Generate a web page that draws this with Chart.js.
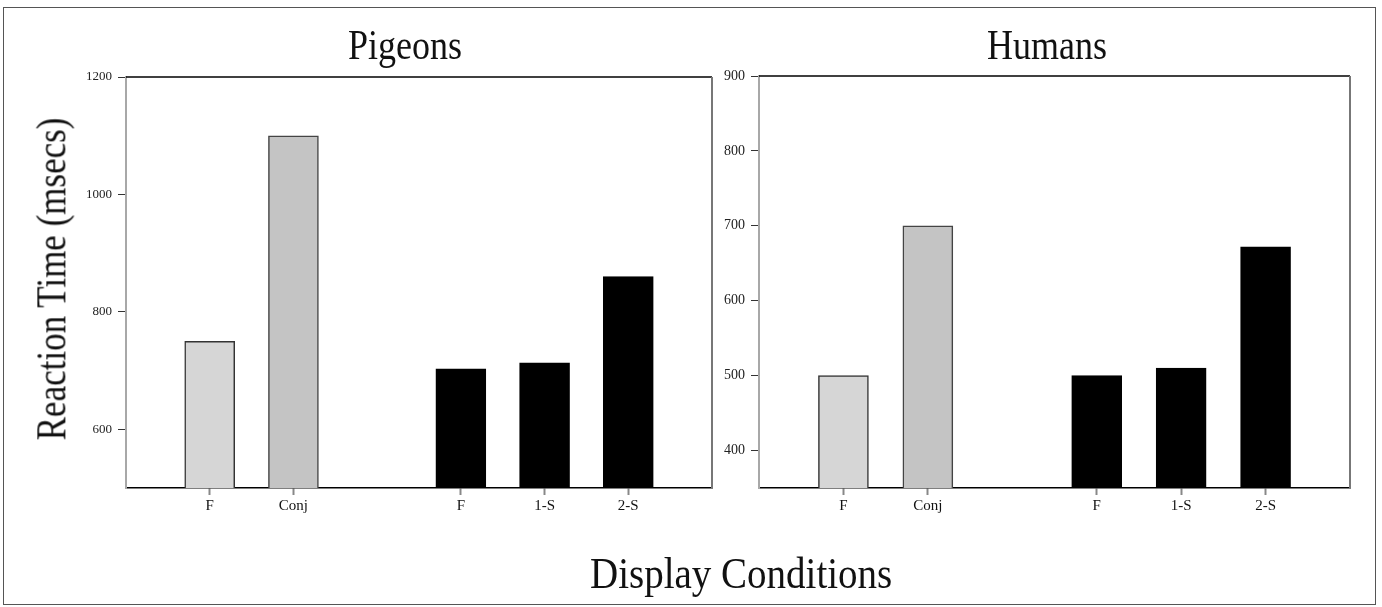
<!DOCTYPE html>
<html>
<head>
<meta charset="utf-8">
<script src="https://cdn.jsdelivr.net/npm/chart.js@4.4.1/dist/chart.umd.min.js"></script>
<style>
    body { margin: 0; background: #fff; }
    #page { position: relative; width: 1382px; height: 607px; overflow: hidden; font-family: 'Liberation Serif', 'DejaVu Serif', serif; color: #111; }
    #frame { position: absolute; left: 3px; top: 7px; width: 1373px; height: 598px; border: 1px solid #555; box-sizing: border-box; }
    canvas { position: absolute; top: 0; }
    .txt { position: absolute; white-space: nowrap; transform-origin: center center; }
</style>
</head>
<body>
<div id="page">
    <div id="frame"></div>
    <canvas id="pigeons" width="740" height="607" style="left:0px"></canvas>
    <canvas id="humans" width="662" height="607" style="left:720px"></canvas>
    <div class="txt" id="t-pigeons" style="font-size:36px;">Pigeons</div>
    <div class="txt" id="t-humans" style="font-size:36px;">Humans</div>
    <div class="txt" id="t-y" style="font-size:35px;">Reaction Time (msecs)</div>
    <div class="txt" id="t-x" style="font-size:39px;">Display Conditions</div>
</div>
<script>
const categories = ['', 'F', 'Conj', '', 'F', '1-S', '2-S', ''];
const pigeonRT = [null, 750, 1100, null, 703, 713, 860, null];
const humanRT = [null, 500, 700, null, 500, 510, 672, null];
const pigeonTicks = [600, 800, 1000, 1200];
const humanTicks = [400, 500, 600, 700, 800, 900];
const barColors = [null, '#d6d6d6', '#c4c4c4', null, '#000', '#000', '#000', null];
const barBorders = [null, '#333', '#444', null, '#000', '#000', '#000', null];

// top and right edges of the plot box
const framePlugin = {
    id: 'framePlugin',
    afterDraw(chart) {
        const a = chart.chartArea;
        const ctx = chart.ctx;
        ctx.save();
        ctx.strokeStyle = '#000';
        ctx.lineWidth = 1.5;
        ctx.beginPath();
        ctx.moveTo(a.left, a.top);
        ctx.lineTo(a.right, a.top);
        ctx.stroke();
        ctx.strokeStyle = '#777';
        ctx.lineWidth = 2;
        ctx.beginPath();
        ctx.moveTo(a.right, a.top);
        ctx.lineTo(a.right, a.bottom);
        ctx.stroke();
        ctx.restore();
    }
};

const makePanel = (canvasId, values, ticks, yMin, yMax, yWidth, pad, tickSize) => {
    return new Chart(document.getElementById(canvasId), {
        type: 'bar',
        data: {
            labels: categories,
            datasets: [{
                data: values,
                backgroundColor: barColors,
                borderColor: barBorders,
                borderWidth: 1.5,
                barThickness: 50
            }]
        },
        options: {
            responsive: false,
            animation: false,
            layout: { padding: pad },
            plugins: { legend: { display: false }, tooltip: { enabled: false } },
            scales: {
                x: {
                    offset: false,
                    grid: {
                        offset: false,
                        drawOnChartArea: false,
                        tickLength: 7,
                        tickColor: (ctx) => categories[ctx.index] ? '#888' : 'rgba(0,0,0,0)',
                        tickWidth: 2
                    },
                    border: { color: '#000', width: 1.5 },
                    ticks: {
                        color: '#111',
                        font: { family: 'Liberation Serif', size: 15 },
                        padding: 2,
                        maxRotation: 0,
                        autoSkip: false
                    },
                    afterFit: (scale) => { scale.height = 119; }
                },
                y: {
                    min: yMin,
                    max: yMax,
                    grid: {
                        drawOnChartArea: false,
                        tickLength: 8,
                        tickColor: '#333'
                    },
                    border: { color: '#a8a8a8', width: 2 },
                    ticks: {
                        color: '#222',
                        font: { family: 'Liberation Serif', size: tickSize },
                        padding: 6,
                        callback: (v) => String(v)
                    },
                    afterBuildTicks: (scale) => { scale.ticks = ticks.map(v => ({ value: v })); },
                    afterFit: (scale) => { scale.width = yWidth; }
                }
            }
        },
        plugins: [framePlugin]
    });
};

makePanel('pigeons', pigeonRT, pigeonTicks, 500, 1200, 126, { top: 77, right: 28, bottom: 0, left: 0 }, 13);
makePanel('humans', humanRT, humanTicks, 350, 900, 39, { top: 76, right: 32, bottom: 0, left: 0 }, 14);

// place the text labels by their centres
const place = (id, cx, cy, rot, sy) => {
    const el = document.getElementById(id);
    const w = el.offsetWidth, h = el.offsetHeight;
    el.style.left = (cx - w / 2) + 'px';
    el.style.top = (cy - h / 2) + 'px';
    el.style.transform = `rotate(${rot}deg) scaleY(${sy})`;
};
place('t-pigeons', 405, 45, 0, 1.2);
place('t-humans', 1047, 45, 0, 1.2);
place('t-y', 52, 279, -90, 1.2);
place('t-x', 741, 572, 0, 1.15);
</script>
</body>
</html>
